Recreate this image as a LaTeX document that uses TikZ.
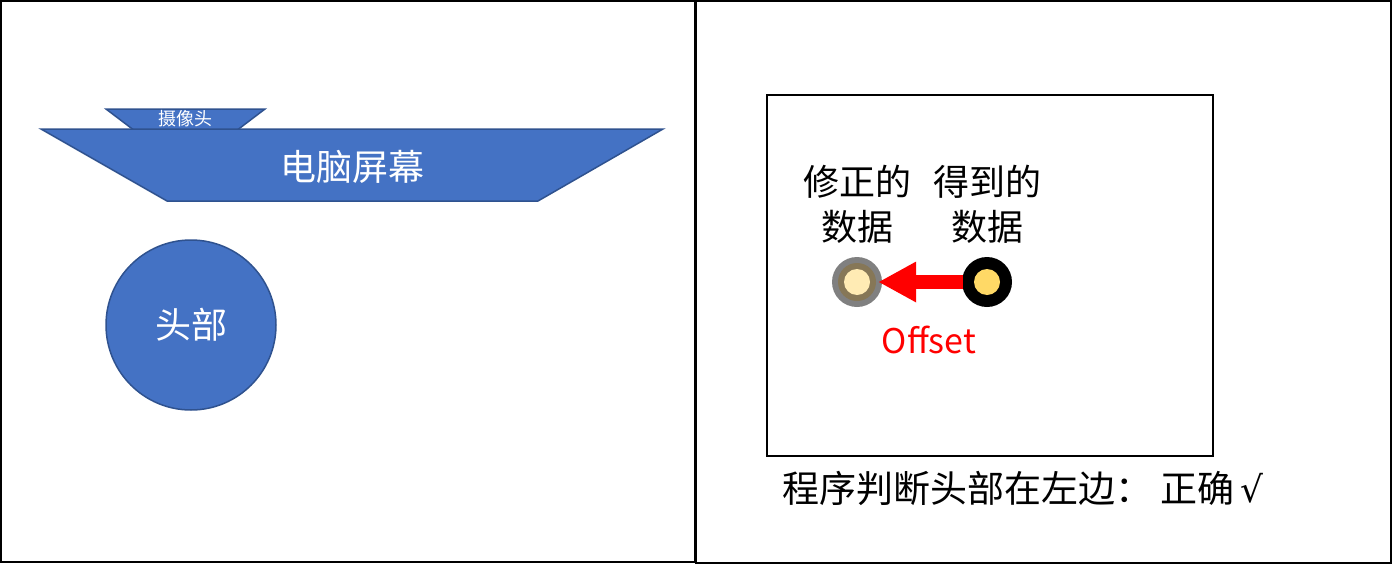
\documentclass[tikz,border=0pt]{standalone}
\usepackage{fontspec}
\setmainfont{Noto Sans CJK SC}
\newfontfamily\symfont{DejaVu Sans}
\usetikzlibrary{arrows.meta}
\definecolor{blueF}{HTML}{4472C4}
\definecolor{blueD}{HTML}{2F528F}
\definecolor{ringG}{HTML}{808080}
\definecolor{ringB}{HTML}{867757}
\definecolor{paleY}{HTML}{FFEBB4}
\definecolor{goldY}{HTML}{FFD966}
\tikzset{
  panel/.style={draw=black, line width=2pt},
  blueshape/.style={draw=blueD, fill=blueF, line width=1.5pt, line join=miter},
  bigtxt/.style={font=\fontsize{36}{45}\selectfont},
  wlabel/.style={text=white, font=\fontsize{36}{40}\selectfont},
}
\begin{document}
\begin{tikzpicture}[x=1pt,y=-1pt]
\useasboundingbox (0,0) rectangle (1393,565);
% panels
\draw[panel] (1,1) rectangle (695,562);
\draw[panel] (696,1) rectangle (1391,563);
% left panel
\draw[blueshape] (106,109) -- (265,109) -- (236,131) -- (135,131) -- cycle;
\node[text=white, font=\fontsize{18}{18}\selectfont] (cam) at (185,119) {摄像头};
\draw[blueshape] (41,129) -- (663,129) -- (538,201) -- (167,201) -- cycle;
\node[wlabel] (screen) at (352,167) {电脑屏幕};
\node[circle, blueshape, minimum size=170pt, inner sep=0pt, wlabel] (head) at (191,325) {头部};
% right panel
\draw[line width=2pt] (767,95) rectangle (1213,456);
\node[bigtxt, align=center] (fixlbl) at (857,204) {修正的\\数据};
\node[bigtxt, align=center] (rawlbl) at (987,204) {得到的\\数据};
\node[circle, fill=ringG, minimum size=50pt, inner sep=0pt] (cor) at (857,282) {};
\node[circle, fill=ringB, minimum size=38pt, inner sep=0pt] at (cor) {};
\node[circle, fill=paleY, minimum size=26pt, inner sep=0pt] at (cor) {};
\node[circle, fill=black, minimum size=50pt, inner sep=0pt] (raw) at (987,282) {};
\node[circle, fill=goldY, minimum size=26pt, inner sep=0pt] at (raw) {};
\draw[red, line width=14pt, -{Triangle[length=38pt, width=38pt]}, shorten >=-4pt, shorten <=-1pt] (raw.west) -- (cor.east);
\node[text=red, font=\fontsize{34}{36}\selectfont] (offset) at (929,340) {Offset};
\node[anchor=west, inner sep=0pt, font=\fontsize{37}{45}\selectfont] (verdict) at (782,488) {程序判断头部在左边：\hspace{8pt}正确\hspace{6pt}{\symfont\fontsize{36}{40}\selectfont √}};
\end{tikzpicture}
\end{document}
